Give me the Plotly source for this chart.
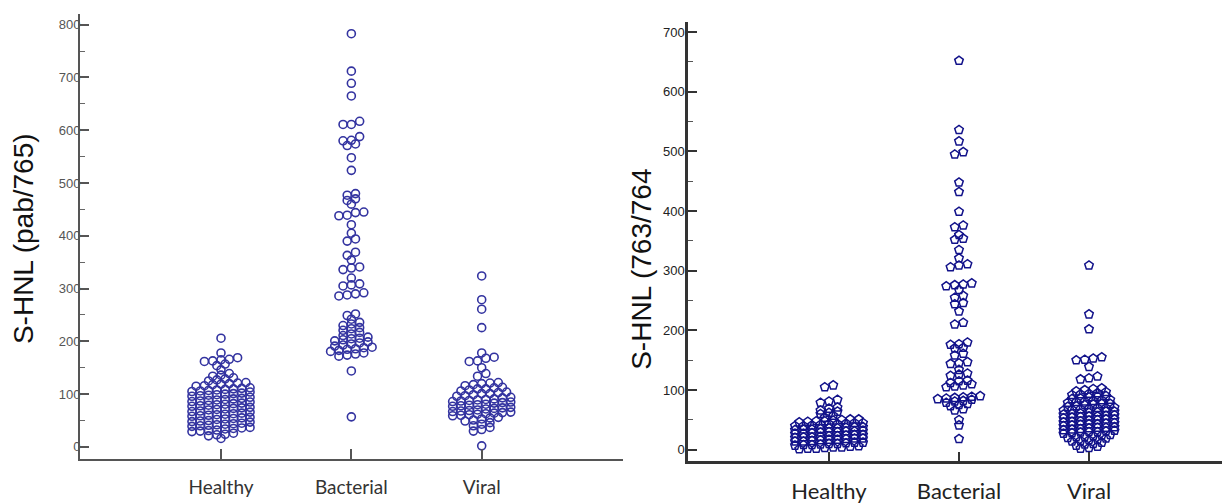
import math
from collections import defaultdict
import plotly.graph_objects as go

# ---------------- data ----------------
categories = ["Healthy", "Bacterial", "Viral"]

# Left panel: S-HNL (pab/765)
left_healthy = [206, 178, 162, 163, 165, 166, 169, 154, 157, 146, 134, 136, 139,
                125, 127, 129, 131, 115, 116, 118, 119, 120, 121, 122,
                105, 106, 107, 108, 109, 110, 111, 112,
                96, 97, 98, 99, 100, 101, 102, 104,
                86, 87, 88, 89, 90, 91, 92, 94,
                77, 78, 79, 80, 81, 82, 83, 85,
                67, 68, 70, 71, 72, 73, 74, 75,
                58, 59, 60, 61, 62, 63, 64, 66,
                48, 49, 50, 52, 53, 54, 55, 56,
                39, 40, 41, 42, 43, 44, 45, 47,
                29, 30, 31, 32, 34, 35, 36, 37,
                21, 23, 24, 26, 16]
left_bacterial = [783, 712, 689, 665, 617, 611, 611, 588, 581, 580, 574, 571, 548, 524,
                  480, 477, 470, 467, 460, 445, 444, 439, 438, 421, 405, 394, 390,
                  369, 363, 354, 341, 339, 336, 320, 309, 307, 305, 292, 290, 288, 286,
                  252, 249, 242, 236, 233, 230, 226, 224, 221, 217, 214, 211,
                  208, 206, 205, 203, 201, 199, 197, 195, 193, 191,
                  189, 188, 186, 185, 183, 181, 178, 176, 174, 172, 144, 57]
left_viral = [324, 279, 261, 226, 178, 170, 168, 163, 162, 150, 139, 134,
              122, 121, 120, 118, 116, 113, 112, 110, 110, 108, 106,
              104, 103, 101, 101, 99, 97, 96,
              94, 93, 91, 90, 89, 88, 87, 86,
              85, 84, 83, 81, 80, 79, 78, 77,
              75, 74, 73, 72, 70, 69, 68, 67,
              66, 65, 64, 63, 62, 61, 60, 59,
              56, 55, 53, 51, 49, 46, 43, 40, 37, 33, 30, 2]

# Right panel: S-HNL (763/764)
right_healthy = [108, 105, 84, 81, 79, 71, 69, 66, 64, 62, 60, 57, 54,
                 46, 47, 48, 48, 49, 50, 51, 51,
                 40, 40, 41, 42, 43, 43, 44, 45, 45,
                 33, 34, 34, 35, 36, 36, 37, 38, 38,
                 27, 27, 28, 29, 30, 30, 31, 31, 32,
                 20, 21, 21, 22, 23, 23, 24, 25, 25,
                 14, 14, 15, 16, 17, 17, 18, 19, 19,
                 7, 8, 8, 9, 10, 10, 11, 12, 12,
                 1, 2, 2, 3, 4, 4, 5, 6]
right_bacterial = [652, 536, 517, 499, 495, 448, 432, 399, 376, 373, 360, 354, 352,
                   335, 321, 311, 309, 306, 279, 277, 276, 274, 268, 258, 255,
                   246, 244, 232, 213, 210, 180, 177, 176, 171, 170, 161, 158,
                   147, 145, 144, 134, 128, 126, 124, 116, 115, 112,
                   110, 108, 106, 105, 90, 89, 88, 87, 86, 85,
                   84, 82, 81, 79, 77, 75, 73, 68, 66, 50, 41, 18]
right_viral = [309, 227, 202, 155, 153, 151, 150, 139, 123, 120, 118,
               103, 102, 100, 98, 97, 95, 94, 93, 92,
               90, 89, 88, 86, 85, 84, 83, 82, 81, 80, 79,
               77, 77, 76, 75, 73, 72, 71, 70, 70, 69, 68, 67, 66,
               64, 64, 63, 62, 61, 60, 59, 58, 57, 56, 56, 55, 54, 53,
               51, 51, 50, 49, 48, 47, 46, 45, 44, 43, 43, 42, 41, 40,
               38, 37, 37, 36, 35, 34, 33, 32, 31, 30, 30, 29, 28, 27,
               25, 24, 23, 22, 21, 20, 19, 17, 16, 15, 14,
               12, 10, 9, 7, 5, 3, 2]

left_yticks = list(range(0, 801, 100))
right_yticks = list(range(0, 701, 100))


# ---------------- dot-plot spreading (Prism style rows) ----------------
def row_offsets(values, bin_size, spacing):
    rows = defaultdict(list)
    for i, v in enumerate(values):
        rows[math.floor(v / bin_size)].append(i)
    offs = [0.0] * len(values)
    for idxs in rows.values():
        idxs.sort(key=lambda i: values[i])
        n = len(idxs)
        for j, i in enumerate(idxs):
            offs[i] = (j - (n - 1) / 2) * spacing
    return offs


W, H = 1222, 504
fig = go.Figure()

LEFT_COLOR = "#3333a0"
RIGHT_COLOR = "#12128a"

for ci, vals in enumerate([left_healthy, left_bacterial, left_viral]):
    offs = row_offsets(vals, 9.5, 8.3 / 130.35)
    fig.add_trace(go.Scatter(
        x=[ci + o for o in offs], y=vals, mode="markers", xaxis="x", yaxis="y",
        marker=dict(symbol="circle-open", size=8, color=LEFT_COLOR,
                    line=dict(width=1.6, color=LEFT_COLOR)),
        showlegend=False, name=categories[ci]))

for ci, vals in enumerate([right_healthy, right_bacterial, right_viral]):
    offs = row_offsets(vals, 6.5, 8.5 / 130.0)
    fig.add_trace(go.Scatter(
        x=[ci + o for o in offs], y=vals, mode="markers", xaxis="x2", yaxis="y2",
        marker=dict(symbol="pentagon-open", size=9, color=RIGHT_COLOR,
                    line=dict(width=1.5, color=RIGHT_COLOR)),
        showlegend=False, name=categories[ci]))

# left panel geometry (pixels)
lx0, lx1, lcat0, lstep = 80, 623, 221, 130.35
ly_top, ly_bot, l_zero, l_scale = 14, 462.7, 450.5, 0.532
# right panel geometry
rx0, rx1, rcat0, rstep = 688, 1222, 829, 130.0
ry_top, ry_bot, r_zero, r_scale = 21.7, 465, 453.3, 0.6014

fig.update_layout(
    width=W, height=H, margin=dict(l=0, r=0, t=0, b=0),
    plot_bgcolor="white", paper_bgcolor="white", showlegend=False,
    xaxis=dict(domain=[lx0 / W, lx1 / W],
               range=[(lx0 - lcat0) / lstep, (lx1 - lcat0) / lstep],
               tickvals=[0, 1, 2], ticktext=categories,
               showline=True, linecolor="#555", linewidth=2,
               ticks="inside", ticklen=10, tickwidth=2, tickcolor="#555",
               tickfont=dict(family="Lato", size=19, color="#333"),
               ticklabelstandoff=10,
               showgrid=False, zeroline=False, anchor="y", fixedrange=True),
    yaxis=dict(domain=[(H - ly_bot) / H, (H - ly_top) / H],
               range=[(l_zero - ly_bot) / l_scale, (l_zero - ly_top) / l_scale],
               tickvals=left_yticks,
               showline=True, linecolor="#555", linewidth=2,
               ticks="inside", ticklen=9, tickwidth=1.5, tickcolor="#555",
               minor=dict(ticks="inside", ticklen=5, tickwidth=1.2, tickcolor="#666",
                          dtick=50, tick0=0),
               tickfont=dict(family="Liberation Sans", size=13, color="#555"),
               ticklabelstandoff=-5,
               showgrid=False, zeroline=False, anchor="x", fixedrange=True),
    xaxis2=dict(domain=[rx0 / W, rx1 / W],
                range=[(rx0 - rcat0) / rstep, (rx1 - rcat0) / rstep],
                tickvals=[0, 1, 2], ticktext=categories,
                showline=True, linecolor="#333", linewidth=2.5,
                ticks="inside", ticklen=10, tickwidth=2, tickcolor="#333",
                tickfont=dict(family="Lato", size=22, color="#222"),
                ticklabelstandoff=9,
                showgrid=False, zeroline=False, anchor="y2", fixedrange=True),
    yaxis2=dict(domain=[(H - ry_bot) / H, (H - ry_top) / H],
                range=[(r_zero - ry_bot) / r_scale, (r_zero - ry_top) / r_scale],
                tickvals=right_yticks,
                showline=True, linecolor="#333", linewidth=2.5,
                ticks="inside", ticklen=9, tickwidth=2, tickcolor="#333",
                minor=dict(ticks="inside", ticklen=5, tickwidth=1.2, tickcolor="#555",
                           dtick=50, tick0=0),
                tickfont=dict(family="Liberation Sans", size=13, color="#222"),
                ticklabelstandoff=-2,
                showgrid=False, zeroline=False, anchor="x2", fixedrange=True),
    annotations=[
        dict(text="S-HNL (pab/765)", x=23 / W, y=(H - 241) / H, xref="paper", yref="paper",
             textangle=-90, showarrow=False, xanchor="center", yanchor="middle",
             font=dict(family="Liberation Sans", size=28, color="#111")),
        dict(text="S-HNL (763/764", x=642 / W, y=(H - 272) / H, xref="paper", yref="paper",
             textangle=-90, showarrow=False, xanchor="center", yanchor="middle",
             font=dict(family="Liberation Sans", size=28, color="#111")),
    ],
)

fig.write_html(
    "out.html",
    config={"displayModeBar": False},
    post_script="document.body.style.margin='0';document.body.style.overflow='hidden';",
)
